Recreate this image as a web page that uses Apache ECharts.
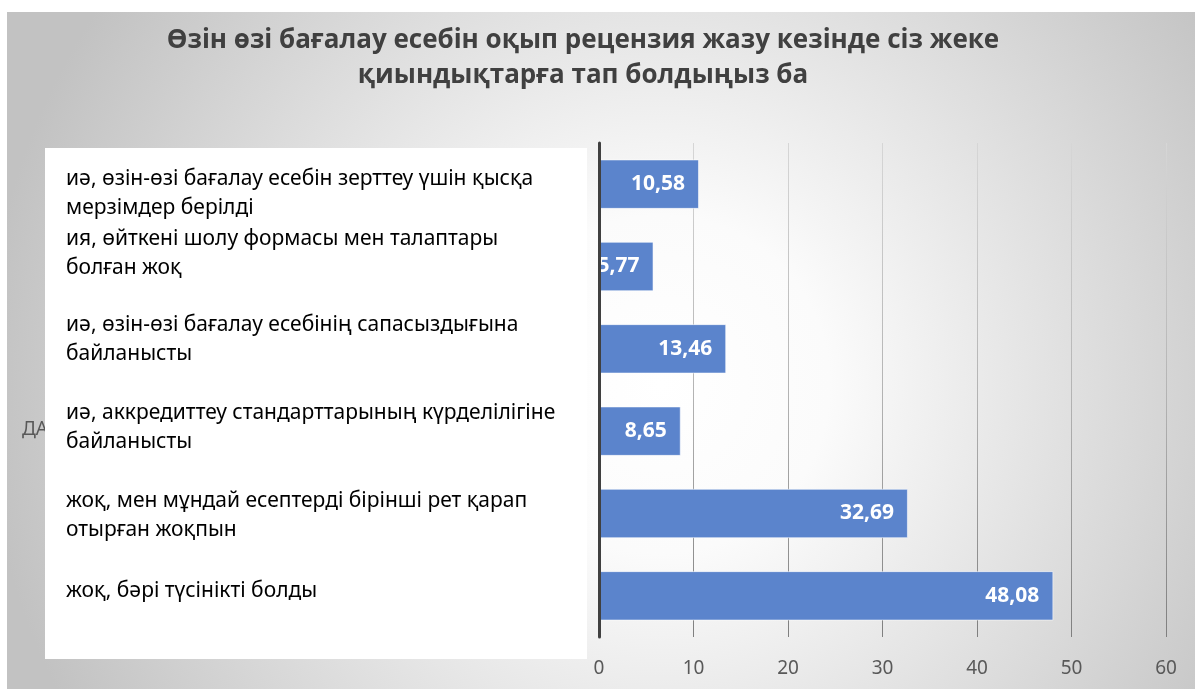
<!DOCTYPE html>
<html>
<head>
<meta charset="utf-8">
<title>Өзін өзі бағалау есебін оқып рецензия жазу</title>
<script src="https://cdn.jsdelivr.net/npm/echarts@6/dist/echarts.min.js"></script>
<style>
  html, body { margin: 0; padding: 0; background: #fff; }
  #main { width: 1195px; height: 689px; }
</style>
</head>
<body>
<div id="main"></div>
<script>
// categories, top to bottom
var categories = [
  'иә, өзін-өзі бағалау есебін зерттеу үшін қысқа\nмерзімдер берілді',
  'ия, өйткені шолу формасы мен талаптары\nболған жоқ',
  'иә, өзін-өзі бағалау есебінің сапасыздығына\nбайланысты',
  'иә, аккредиттеу стандарттарының күрделілігіне\nбайланысты',
  'жоқ, мен мұндай есептерді бірінші рет қарап\nотырған жоқпын',
  'жоқ, бәрі түсінікті болды'
]
var values = [10.58, 5.77, 13.46, 8.65, 32.69, 48.08]
var axisMax = 60
var axisStep = 10

// the labels in the original sit a little off the bar centres (px, + = down)
var labelNudge = [9, -13, -9, -4, 2, -5]

// an empty spacer line above/below the label pushes it down/up
var gapStyles = {}
labelNudge.forEach(function (d) {
  var h = Math.abs(d) * 2
  gapStyles['g' + h] = { fontSize: 1, lineHeight: h }
})

var chart = echarts.init(document.getElementById('main'))

chart.setOption({
  animation: false,
  title: {
    text: 'Өзін өзі бағалау есебін оқып рецензия жазу кезінде сіз жеке\nқиындықтарға тап болдыңыз ба',
    left: 578,
    top: 18,
    textAlign: 'center',
    textStyle: {
      fontFamily: 'Open Sans',
      fontWeight: 'bold',
      fontSize: 26,
      lineHeight: 35,
      color: '#404040'
    }
  },
  graphic: [
    {
      type: 'rect',
      z: -10,
      shape: { x: 7, y: 12, width: 1188, height: 677 },
      style: {
        fill: new echarts.graphic.RadialGradient(0.55, 0.55, 1.0, [
          { offset: 0, color: '#ffffff' },
          { offset: 0.25, color: '#fbfbfb' },
          { offset: 1, color: '#c2c2c2' }
        ])
      }
    },
    {
      type: 'text',
      z: -9,
      left: 22,
      top: 420,
      style: { text: 'ДАННЫЕ', fontFamily: 'Noto Sans', fontSize: 19, fill: '#595959' }
    },
    {
      type: 'rect',
      z: -8,
      shape: { x: 45, y: 148, width: 542, height: 511 },
      style: { fill: '#ffffff' }
    }
  ],
  grid: {
    left: 599,
    right: 29,
    top: 143,
    bottom: 52,
    containLabel: false,
    outerBoundsMode: 'none'
  },
  xAxis: {
    type: 'value',
    min: 0,
    max: axisMax,
    interval: axisStep,
    axisLine: { show: false },
    axisTick: { show: false },
    axisLabel: {
      margin: 22,
      fontFamily: 'Noto Sans',
      fontSize: 19,
      color: '#595959'
    },
    splitLine: {
      lineStyle: {
        width: 1,
        color: new echarts.graphic.LinearGradient(0, 143, 0, 637, [
          { offset: 0, color: '#d6d6d6' },
          { offset: 0.5, color: '#b4b4b4' },
          { offset: 1, color: '#7f7f7f' }
        ], true)
      }
    }
  },
  yAxis: {
    type: 'category',
    inverse: true,
    data: categories,
    z: 5,
    axisLine: { show: true, lineStyle: { color: '#404040', width: 3 } },
    axisTick: { show: false },
    axisLabel: {
      align: 'left',
      margin: 533,
      fontFamily: 'Noto Sans',
      fontSize: 21,
      lineHeight: 29,
      color: '#000000',
      formatter: function (value, idx) {
        var d = labelNudge[idx] || 0
        if (!d) return value
        var gap = '{g' + Math.abs(d) * 2 + '| }'
        return d > 0 ? gap + '\n' + value : value + '\n' + gap
      },
      rich: gapStyles
    }
  },
  series: [{
    type: 'bar',
    data: values,
    barCategoryGap: '40%',
    itemStyle: {
      color: '#5b84cc',
      borderColor: 'rgba(255,255,255,0.55)',
      borderWidth: 1
    },
    label: {
      show: true,
      position: 'insideRight',
      distance: 14,
      fontFamily: 'Noto Sans',
      fontWeight: 'bold',
      fontSize: 21,
      color: '#ffffff',
      formatter: function (p) { return p.value.toFixed(2).replace('.', ',') }
    }
  }]
})
</script>
</body>
</html>
